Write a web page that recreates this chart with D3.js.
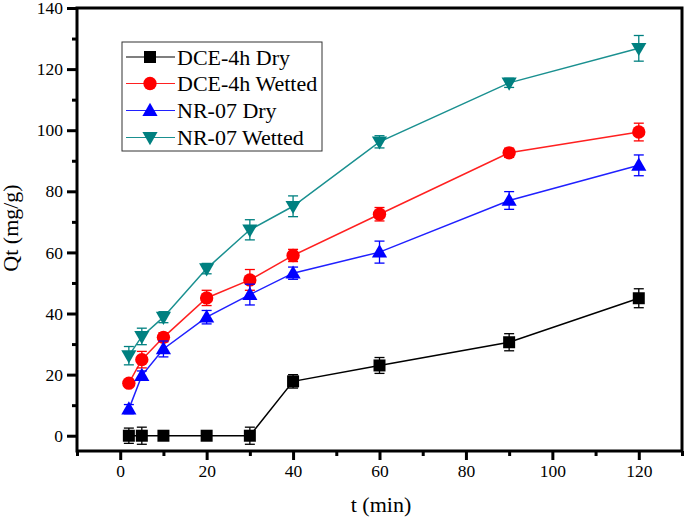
<!DOCTYPE html>
<html>
<head>
<meta charset="utf-8">
<script src="https://cdn.jsdelivr.net/npm/d3@7"></script>
<style>
  html, body { margin: 0; padding: 0; background: #fff; }
  svg { display: block; }
  text { font-family: "Liberation Serif", "Times New Roman", serif; fill: #000; }
</style>
</head>
<body>
<svg id="chart" width="685" height="517"></svg>
<script>
// ---- data ----
const times = [2, 5, 10, 20, 30, 40, 60, 90, 120];
const dceDry = [0, 0, 0, 0, 0, 17.8, 23.0, 30.6, 45.0];
const dceDryErr = [2.5, 2.8, 0.5, 1.0, 2.8, 2.2, 2.6, 2.8, 3.1];
const dceWet = [17.2, 24.9, 32.2, 45.1, 51.0, 59.0, 72.5, 92.6, 99.4];
const dceWetErr = [1.0, 2.7, 1.5, 2.5, 3.4, 2.0, 2.2, 1.5, 2.9];
const nrDry = [8.7, 19.7, 28.4, 38.8, 46.2, 53.2, 60.1, 77.0, 88.5];
const nrDryErr = [1.5, 1.5, 2.6, 2.2, 3.4, 2.0, 3.6, 2.9, 3.4];
const nrWet = [26.2, 32.5, 38.8, 54.7, 67.4, 75.1, 96.2, 115.5, 126.8];
const nrWetErr = [3.0, 2.7, 1.8, 1.7, 3.3, 3.4, 2.0, 1.5, 4.2];
const seriesNames = ["DCE-4h Dry", "DCE-4h Wetted", "NR-07 Dry", "NR-07 Wetted"];
const xTicks = [0, 20, 40, 60, 80, 100, 120];
const yTicks = [0, 20, 40, 60, 80, 100, 120, 140];

const series = [
  { name: seriesNames[0], v: dceDry, e: dceDryErr, color: "#000000", line: "#000000", sym: d3.symbolSquare, size: 144 },
  { name: seriesNames[1], v: dceWet, e: dceWetErr, color: "#ff0000", line: "#ff2020", sym: d3.symbolCircle, size: 140 },
  { name: seriesNames[2], v: nrDry, e: nrDryErr, color: "#0000ff", line: "#2020ff", sym: d3.symbolTriangle, size: 100, rot: 0 },
  { name: seriesNames[3], v: nrWet, e: nrWetErr, color: "#008080", line: "#1a9090", sym: d3.symbolTriangle, size: 100, rot: 180 }
];

const svg = d3.select("#chart");
const L = 77, R = 682, T = 8, B = 451;
const x = d3.scaleLinear().domain([-10, 130]).range([L, R]);
const y = d3.scaleLinear().domain([-5, 140]).range([B, T]);

// frame
svg.append("rect").attr("x", L).attr("y", T).attr("width", R - L).attr("height", B - T)
  .attr("fill", "none").attr("stroke", "#000").attr("stroke-width", 3);

// minor ticks
const xMinor = d3.range(-10, 131, 10).filter(d => d % 20 !== 0);
const yMinor = d3.range(10, 140, 20);
const axX = svg.append("g").attr("transform", `translate(0,${B})`);
axX.call(d3.axisBottom(x).tickValues(xMinor).tickSize(5).tickFormat(""));
axX.append("g").call(d3.axisBottom(x).tickValues(xTicks).tickSize(9).tickPadding(5).tickFormat(d3.format("d")));
axX.selectAll("path.domain").remove();
axX.selectAll("g").attr("font-family", "Liberation Serif").attr("font-size", 17.5);
axX.attr("font-family", "Liberation Serif").attr("font-size", 17.5);
axX.selectAll("line").attr("stroke", "#000").attr("stroke-width", 3);
axX.selectAll("text").style("font-size", "17.5px").style("font-family", "'Liberation Serif', serif").attr("fill", "#000");

const axY = svg.append("g").attr("transform", `translate(${L},0)`);
axY.call(d3.axisLeft(y).tickValues(yMinor).tickSize(5).tickFormat(""));
axY.append("g").call(d3.axisLeft(y).tickValues(yTicks).tickSize(10).tickPadding(4).tickFormat(d3.format("d")));
axY.selectAll("path.domain").remove();
axY.attr("font-family", "Liberation Serif").attr("font-size", 17.5);
axY.selectAll("g").attr("font-family", "Liberation Serif").attr("font-size", 17.5);
axY.selectAll("line").attr("stroke", "#000").attr("stroke-width", 3);
axY.selectAll("text").style("font-size", "17.5px").style("font-family", "'Liberation Serif', serif").attr("fill", "#000");

// axis titles
svg.append("text").attr("x", 381).attr("y", 512).attr("text-anchor", "middle")
  .style("font-size", "22px").text("t (min)");
svg.append("text").attr("transform", "translate(18,228) rotate(-90)").attr("text-anchor", "middle")
  .style("font-size", "22px").text("Qt (mg/g)");

// series
const lineGen = d3.line().x(d => x(d[0])).y(d => y(d[1]));
series.forEach(s => {
  const pts = times.map((t, i) => [t, s.v[i], s.e[i]]);
  const g = svg.append("g");
  g.append("path").attr("d", lineGen(pts)).attr("fill", "none")
    .attr("stroke", s.line).attr("stroke-width", 1.5);
  // error bars
  pts.forEach(p => {
    const cx = x(p[0]), y1 = y(p[1] + p[2]), y2 = y(p[1] - p[2]);
    g.append("line").attr("x1", cx).attr("x2", cx).attr("y1", y1).attr("y2", y2)
      .attr("stroke", s.color).attr("stroke-width", 1.3);
    [y1, y2].forEach(yy => g.append("line").attr("x1", cx - 5).attr("x2", cx + 5)
      .attr("y1", yy).attr("y2", yy).attr("stroke", s.color).attr("stroke-width", 1.3));
  });
  const sym = d3.symbol().type(s.sym).size(s.size);
  g.selectAll("path.m").data(pts).join("path").attr("class", "m")
    .attr("d", sym)
    .attr("transform", p => `translate(${x(p[0])},${y(p[1]) + (s.rot === 180 ? -1 : (s.rot === 0 ? 1 : 0))}) rotate(${s.rot || 0})`)
    .attr("fill", s.color);
});

// legend
const lg = svg.append("g");
lg.append("rect").attr("x", 122).attr("y", 42).attr("width", 200).attr("height", 109)
  .attr("fill", "#fff").attr("stroke", "#333").attr("stroke-width", 1);
const rowsY = [57, 83.5, 110.5, 137.5];
series.forEach((s, i) => {
  const yy = rowsY[i];
  lg.append("line").attr("x1", 126).attr("x2", 175).attr("y1", yy).attr("y2", yy)
    .attr("stroke", s.line).attr("stroke-width", 1.2);
  lg.append("path").attr("d", d3.symbol().type(s.sym).size(s.size)())
    .attr("transform", `translate(150,${yy + (s.rot === 180 ? -1 : (s.rot === 0 ? 1 : 0))}) rotate(${s.rot || 0})`)
    .attr("fill", s.color);
  lg.append("text").attr("x", 177).attr("y", yy + 7.5).style("font-size", "22px").text(s.name);
});
</script>
</body>
</html>
